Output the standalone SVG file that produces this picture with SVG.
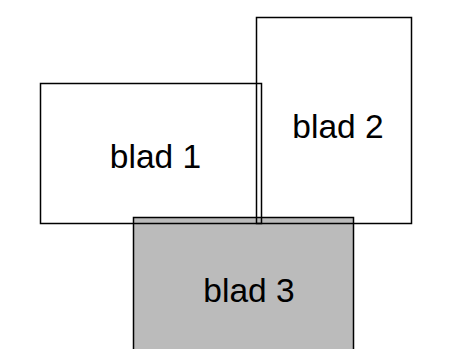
<svg xmlns="http://www.w3.org/2000/svg" width="453" height="349" viewBox="0 0 453 349">
<style>
.box{stroke:#000;stroke-width:1.5;fill:none}
.t{font-family:"Liberation Sans",Arial,sans-serif;font-size:33.5px;fill:#000;text-anchor:middle}
</style>
<rect width="453" height="349" fill="#fff"/>
<g id="blad3">
<rect x="133.5" y="217.5" width="220" height="140" fill="#bbbbbb" stroke="#000" stroke-width="1.5"/>
<text class="t" x="249" y="302">blad 3</text>
</g>
<g id="blad1">
<rect class="box" x="40.5" y="83.5" width="221" height="140"/>
<text class="t" x="155.5" y="168">blad 1</text>
</g>
<g id="blad2">
<rect class="box" x="256.5" y="17.5" width="155" height="206"/>
<text class="t" x="338" y="138">blad 2</text>
</g>
<g id="connectors"></g>
</svg>
